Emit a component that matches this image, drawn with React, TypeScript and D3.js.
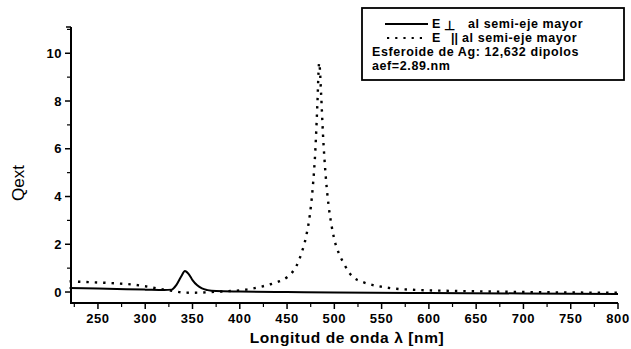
import React from "react";
import * as d3 from "d3";

const perpX = [220, 250, 280, 300, 320, 328, 333, 338, 342, 346, 350, 355, 360, 366, 375, 400, 450, 500, 600, 700, 800];
const perpY = [0.17, 0.15, 0.12, 0.1, 0.08, 0.1, 0.3, 0.65, 0.88, 0.75, 0.5, 0.28, 0.15, 0.08, 0.04, 0.02, 0.0, -0.02, -0.04, -0.06, -0.08];

const parX = [220, 230, 250, 270, 285, 300, 310, 320, 330, 340, 350, 360, 370, 380, 390, 400, 410, 420, 430, 440, 450, 455, 460, 465, 470, 474, 477, 480, 482, 484, 486, 488, 491, 494, 497, 500, 505, 510, 515, 520, 530, 540, 550, 560, 580, 600, 650, 700, 750, 800];
const parY = [0.45, 0.43, 0.4, 0.36, 0.32, 0.24, 0.17, 0.1, 0.04, -0.02, -0.03, -0.02, 0.0, 0.02, 0.04, 0.07, 0.12, 0.2, 0.3, 0.42, 0.62, 0.8, 1.1, 1.6, 2.3, 3.2, 4.3, 6.0, 7.8, 9.6, 8.3, 6.6, 4.8, 3.6, 2.8, 2.2, 1.6, 1.2, 0.85, 0.62, 0.42, 0.3, 0.22, 0.16, 0.1, 0.07, 0.03, 0.0, -0.02, -0.03];

const xTicks = [250, 300, 350, 400, 450, 500, 550, 600, 650, 700, 750, 800];
const xMinor = [225, 275, 325, 375, 425, 475, 525, 575, 625, 675, 725, 775];
const yTicks = [0, 2, 4, 6, 8, 10];
const yMinor = [1, 3, 5, 7, 9, 11];

const legendLines = ["al semi-eje mayor", "al semi-eje mayor", "Esferoide de Ag: 12,632 dipolos", "aef=2.89.nm"];

export default function App() {
  const W = 631, H = 349;
  const x = d3.scaleLinear().domain([221.5, 800]).range([71, 618]);
  const y = d3.scaleLinear().domain([-0.46, 11.1]).range([303, 27]);
  const mk = (xs: number[], ys: number[]) =>
    d3.line<number>().x((d) => x(d)).y((_, i) => y(ys[i])).curve(d3.curveMonotoneX)(xs) || "";
  const font = "'Liberation Sans', Arial, sans-serif";
  const ls = 0.6;
  return (
    <svg width={W} height={H} style={{ position: "absolute", left: 0, top: 0, background: "#fff" }}>
      <rect width={W} height={H} fill="#fff" />
      {/* axes */}
      <line x1={71} x2={71} y1={27} y2={303} stroke="#000" strokeWidth={2} />
      <line x1={66} x2={71} y1={27} y2={27} stroke="#000" strokeWidth={1.5} />
      <line x1={70} x2={618} y1={303} y2={303} stroke="#000" strokeWidth={2} />
      {yTicks.map((t) => (
        <g key={"yt" + t}>
          <line x1={65} x2={71} y1={y(t)} y2={y(t)} stroke="#000" strokeWidth={1.5} />
          <text x={62} y={y(t) + 4.5} textAnchor="end" fontFamily={font} fontWeight="bold" fontSize={13} letterSpacing={0.5}>{t}</text>
        </g>
      ))}
      {yMinor.map((t) => (
        <line key={"ym" + t} x1={67} x2={71} y1={y(t)} y2={y(t)} stroke="#000" strokeWidth={1.2} />
      ))}
      {xTicks.map((t) => (
        <g key={"xt" + t}>
          <line x1={x(t)} x2={x(t)} y1={303} y2={309} stroke="#000" strokeWidth={1.5} />
          <text x={x(t)} y={323} textAnchor="middle" fontFamily={font} fontWeight="bold" fontSize={13} letterSpacing={0.6}>{t}</text>
        </g>
      ))}
      {xMinor.map((t) => (
        <line key={"xm" + t} x1={x(t)} x2={x(t)} y1={303} y2={307} stroke="#000" strokeWidth={1.2} />
      ))}
      {/* data */}
      <path d={mk(parX, parY)} fill="none" stroke="#000" strokeWidth={2.4} strokeDasharray="2.4 6" />
      <path d={mk(perpX, perpY)} fill="none" stroke="#000" strokeWidth={2} />
      {/* axis titles */}
      <text x={347} y={343} textAnchor="middle" fontFamily={font} fontWeight="bold" fontSize={15.5} letterSpacing={0.6}>Longitud de onda λ [nm]</text>
      <text transform="translate(24,183) rotate(-90)" textAnchor="middle" fontFamily="'Liberation Sans Narrow', 'Liberation Sans', sans-serif" fontSize={17}>Qext</text>
      {/* legend */}
      <rect x={362} y={8} width={262} height={72} fill="#fff" stroke="#000" strokeWidth={1.8} />
      <line x1={385} x2={428} y1={24} y2={24} stroke="#000" strokeWidth={2} />
      <text x={432} y={28} fontFamily={font} fontWeight="bold" fontSize={12.5}>E</text>
      <text x={444} y={30} fontFamily={font} fontWeight="bold" fontSize={13}>⊥</text>
      <text x={468} y={28} fontFamily={font} fontWeight="bold" fontSize={12.5} letterSpacing={ls}>{legendLines[0]}</text>
      <line x1={387} x2={425} y1={38} y2={38} stroke="#000" strokeWidth={2.2} strokeDasharray="2.2 6" />
      <text x={432} y={42} fontFamily={font} fontWeight="bold" fontSize={12.5}>E</text>
      <text x={451} y={42} fontFamily={font} fontWeight="bold" fontSize={12.5}>||</text>
      <text x={462} y={42} fontFamily={font} fontWeight="bold" fontSize={12.5} letterSpacing={ls}>{legendLines[1]}</text>
      <text x={372} y={56} fontFamily={font} fontWeight="bold" fontSize={12.5} letterSpacing={ls}>{legendLines[2]}</text>
      <text x={372} y={70} fontFamily={font} fontWeight="bold" fontSize={12.5} letterSpacing={ls}>{legendLines[3]}</text>
    </svg>
  );
}
